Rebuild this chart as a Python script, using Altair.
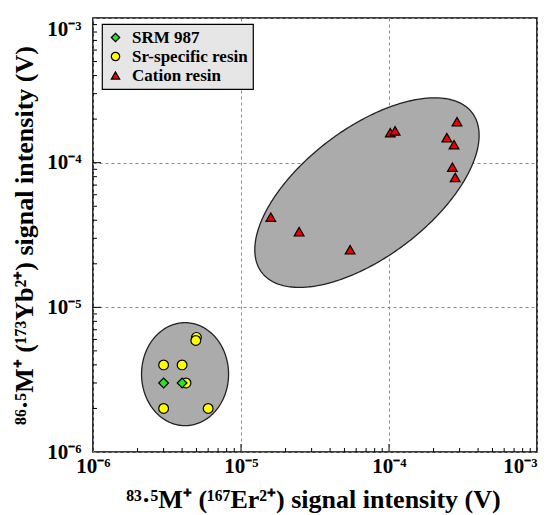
import altair as alt
import numpy as np
import pandas as pd

# ---------------- data ----------------
cation_x = [1.02e-4, 1.10e-4, 2.88e-4, 2.46e-4, 2.75e-4, 2.68e-4, 2.80e-4, 2.47e-5, 5.46e-5, 1.59e-5]
cation_y = [1.61e-4, 1.66e-4, 1.92e-4, 1.49e-4, 1.33e-4, 9.3e-5, 7.9e-5, 3.34e-5, 2.50e-5, 4.20e-5]

sr_x = [3.0e-6, 4.0e-6, 3.0e-6, 6.0e-6, 5.0e-6, 4.95e-6, 4.25e-6]
sr_y = [4.0e-6, 4.0e-6, 2.0e-6, 2.0e-6, 6.2e-6, 5.9e-6, 3.0e-6]

srm_x = [3.0e-6, 4.0e-6]
srm_y = [3.0e-6, 3.0e-6]

groups = ["SRM 987", "Sr-specific resin", "Cation resin"]
group_fill = ["#22e622", "#ffff00", "#ee0000"]
group_shape = ["diamond", "circle", "triangle-up"]

tick_labels = ["10⁻⁶", "10⁻⁵", "10⁻⁴", "10⁻³"]
decades = [1e-6, 1e-5, 1e-4, 1e-3]

# ellipses: (centre log10 x, centre log10 y, semi-major, semi-minor [decades], angle deg)
ellipse_small = (-5.378, -5.462, 0.294, 0.356, 0.0)
ellipse_big = (-4.149, -4.207, 0.90, 0.44, 38.2)

W, H = 444, 434


def ellipse_area(params, n=240):
    cx, cy, a, b, ang = params
    th = np.radians(ang)
    c, s = np.cos(th), np.sin(th)
    half_w = np.sqrt(a**2 * c**2 + b**2 * s**2)
    u = -half_w * np.cos(np.linspace(0, np.pi, n))
    A = s**2 / a**2 + c**2 / b**2
    B = 2 * u * (c * s / a**2 - s * c / b**2)
    C = u**2 * (c**2 / a**2 + s**2 / b**2) - 1
    disc = np.clip(B**2 - 4 * A * C, 0, None)
    v1 = (-B + np.sqrt(disc)) / (2 * A)
    v2 = (-B - np.sqrt(disc)) / (2 * A)
    return pd.DataFrame({"x": 10 ** (cx + u), "y": 10 ** (cy + v1), "y2": 10 ** (cy + v2)})


def ellipse_outline(params, n=360):
    cx, cy, a, b, ang = params
    th = np.radians(ang)
    t = np.linspace(0, 2 * np.pi, n)
    du = a * np.cos(t) * np.cos(th) - b * np.sin(t) * np.sin(th)
    dv = a * np.cos(t) * np.sin(th) + b * np.sin(t) * np.cos(th)
    return pd.DataFrame({"x": 10 ** (cx + du), "y": 10 ** (cy + dv), "o": np.arange(n)})


pts = pd.concat([
    pd.DataFrame({"x": cation_x, "y": cation_y, "g": "Cation resin"}),
    pd.DataFrame({"x": sr_x, "y": sr_y, "g": "Sr-specific resin"}),
    pd.DataFrame({"x": srm_x, "y": srm_y, "g": "SRM 987"}),
], ignore_index=True)
pts["o"] = np.arange(len(pts))

minor = [m * d for d in decades[:-1] for m in range(2, 10)]
ticks_minor = pd.DataFrame({"v": minor})
ticks_major = pd.DataFrame({"v": decades[1:-1]})

label_expr = "[" + ",".join(f"'{t}'" for t in tick_labels) + "][round(log(datum.value)/LN10)+6]"

FONT = "Liberation Serif"

xscale = alt.Scale(type="log", domain=[1e-6, 1e-3], nice=False)
yscale = alt.Scale(type="log", domain=[1e-6, 1e-3], nice=False)

x_axis = alt.Axis(
    values=decades, labelExpr=label_expr, ticks=False, domain=False,
    grid=True, gridDash=[3, 3], gridColor="#8a8a8a", gridWidth=1,
    labelFont=FONT, labelFontWeight="bold", labelFontSize=21, labelColor="black",
    labelPadding=3, labelFlush=False, labelOverlap=False,
    labelAlign={"condition": {"test": "datum.value > 5e-4", "value": "right"}, "value": "center"},
    title="⁸³·⁵M⁺ (¹⁶⁷Er²⁺) signal intensity (V)",
    titleFont=FONT, titleFontWeight="bold", titleFontSize=26, titleColor="black",
    titleX=220, titleY=55, titleBaseline="alphabetic", titleAlign="center",
)
y_axis = alt.Axis(
    values=decades, labelExpr=label_expr, ticks=False, domain=False,
    grid=True, gridDash=[3, 3], gridColor="#8a8a8a", gridWidth=1,
    labelFont=FONT, labelFontWeight="bold", labelFontSize=21, labelColor="black",
    labelPadding=12, labelFlush=False, labelOverlap=False,
    labelBaseline={"condition": {"test": "datum.value > 5e-4", "value": "top"}, "value": "middle"},
    title="⁸⁶·⁵M⁺ (¹⁷³Yb²⁺) signal intensity (V)",
    titleFont=FONT, titleFontWeight="bold", titleFontSize=26, titleColor="black",
    titleX=-61, titleY=217, titleBaseline="alphabetic", titleAlign="center", titleAngle=270,
)

layers = []
for p in (ellipse_small, ellipse_big):
    layers.append(
        alt.Chart(ellipse_area(p)).mark_area(color="#ababab", opacity=1, interpolate="linear").encode(
            x=alt.X("x:Q", scale=xscale, axis=x_axis),
            y=alt.Y("y:Q", scale=yscale, axis=y_axis),
            y2="y2:Q",
        )
    )
    layers.append(
        alt.Chart(ellipse_outline(p)).mark_line(color="#222222", strokeWidth=1.3).encode(
            x=alt.X("x:Q", scale=xscale),
            y=alt.Y("y:Q", scale=yscale),
            order="o:Q",
        )
    )

legend = alt.Legend(
    title=None, orient="none", legendX=9, legendY=6,
    fillColor="#e6e6e6", strokeColor="black", padding=5, rowPadding=1,
    symbolSize=70, symbolStrokeWidth=1.2, symbolOpacity=1,
    labelFont=FONT, labelFontWeight="bold", labelFontSize=17, labelColor="black",
    labelOffset=8,
)

points = alt.Chart(pts).mark_point(filled=True, strokeWidth=1.2, opacity=1, size=95).encode(
    x=alt.X("x:Q", scale=xscale),
    y=alt.Y("y:Q", scale=yscale),
    fill=alt.Fill("g:N", scale=alt.Scale(domain=groups, range=group_fill), legend=legend),
    shape=alt.Shape("g:N", scale=alt.Scale(domain=groups, range=group_shape), legend=legend),
    stroke=alt.Stroke("g:N", scale=alt.Scale(domain=groups, range=["black", "black", "black"]), legend=legend),
    order="o:Q",
)

xt_minor = alt.Chart(ticks_minor).mark_rule(color="black", strokeWidth=1).encode(
    x=alt.X("v:Q", scale=xscale), y=alt.value(H), y2=alt.value(H - 4))
xt_major = alt.Chart(ticks_major).mark_rule(color="black", strokeWidth=1).encode(
    x=alt.X("v:Q", scale=xscale), y=alt.value(H), y2=alt.value(H - 8))
yt_minor = alt.Chart(ticks_minor).mark_rule(color="black", strokeWidth=1).encode(
    y=alt.Y("v:Q", scale=yscale), x=alt.value(0), x2=alt.value(4))
yt_major = alt.Chart(ticks_major).mark_rule(color="black", strokeWidth=1).encode(
    y=alt.Y("v:Q", scale=yscale), x=alt.value(0), x2=alt.value(8))

chart = alt.layer(*layers, xt_minor, xt_major, yt_minor, yt_major, points).properties(
    width=W, height=H,
    autosize=alt.AutoSizeParams(type="none"),
    padding={"left": 85, "top": 10, "right": 5, "bottom": 63},
).configure_view(
    stroke="black", strokeWidth=1.6
).configure_legend(
    strokeWidth=1.2, cornerRadius=0,
)

chart.save("out.html", embed_options={"renderer": "svg", "actions": False})
